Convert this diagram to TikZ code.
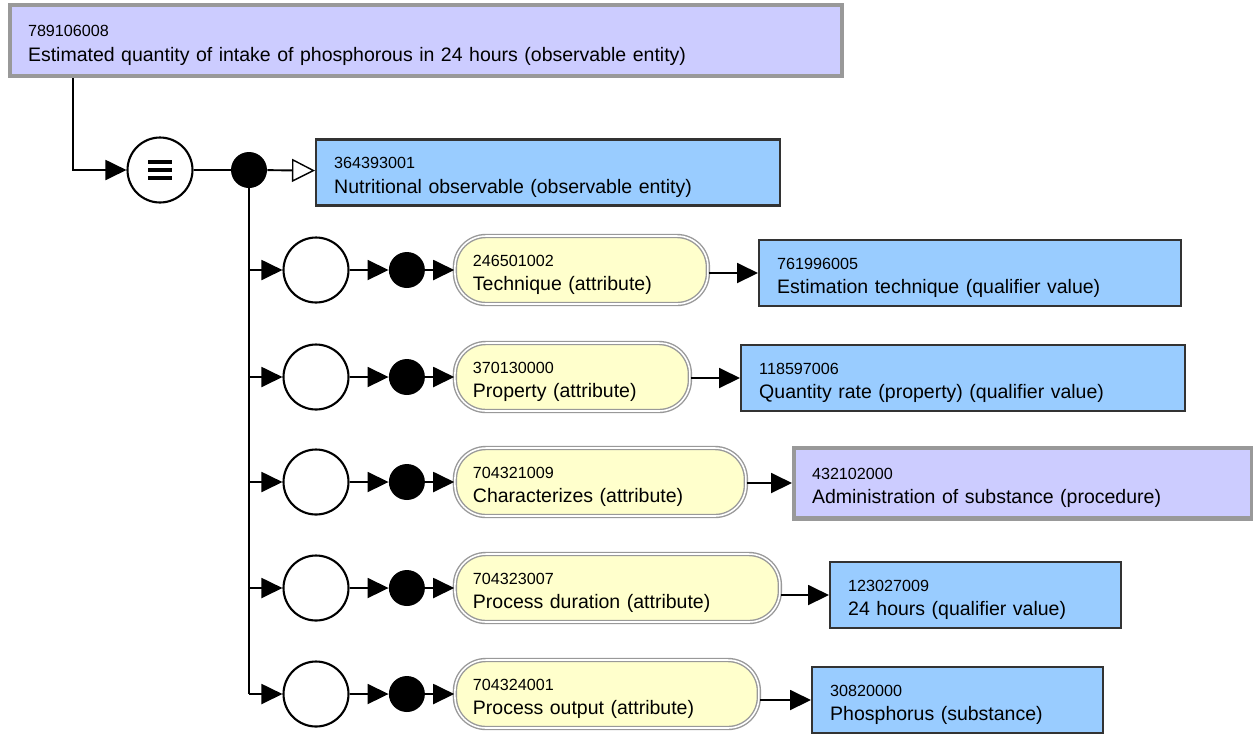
\documentclass[tikz,border=0pt]{standalone}
\usepackage{fontspec}
\setmainfont{Liberation Sans}
\usetikzlibrary{arrows.meta, positioning}
\definecolor{primlavender}{HTML}{CCCCFF}
\definecolor{primblue}{HTML}{99CCFF}
\definecolor{attryellow}{HTML}{FFFFCC}
\definecolor{borderdark}{HTML}{333333}
\definecolor{bordergray}{HTML}{999999}
\newcommand{\sctid}[1]{{\fontsize{9.2}{11}\selectfont\rule{0pt}{12pt}#1}}

\begin{document}
\begin{tikzpicture}[
        x=0.02cm, y=-0.02cm,
        box/.style = {rectangle, anchor=west, align=left, inner xsep=0.36cm, font=\fontsize{11.1}{14}\selectfont},
        defbox/.style = {box, fill=primlavender, draw=bordergray, line width=2.3pt, minimum height=1.42cm},
        primbox/.style = {box, fill=primblue, draw=borderdark, line width=1.4pt, minimum height=1.32cm},
        attrbox/.style = {box, fill=attryellow, draw=black!40, double=white, double distance=0.9pt, line width=0.8pt, rounded corners=0.62cm, minimum height=1.36cm},
        group/.style = {circle, draw, line width=1.2pt, minimum size=1.3cm, inner sep=0pt},
        conj/.style = {circle, fill=black, minimum size=0.72cm, inner sep=0pt},
        line/.style = {draw=black, line width=1.1pt},
        arrow/.style = {line, -{Triangle[length=0.42cm, width=0.4cm]}},
        isa/.style = {line, -{Triangle[open, length=0.46cm, width=0.46cm, line width=0.8pt]}}
    ]
        \useasboundingbox (0,0) rectangle (1253,735);

        % Focus concept
        \node (focus) [defbox, text width=15.92cm] at (8,40.5) {\sctid{789106008}\\Estimated quantity of intake of phosphorous in 24 hours (observable entity)};

        % Definition status and parent
        \node (equiv) [group] at (160,170) {};
        \draw [line width=1.9pt] ([shift={(-0.24cm,0.16cm)}]equiv.center) -- ++(0.48cm,0);
        \draw [line width=1.9pt] ([shift={(-0.24cm,0cm)}]equiv.center) -- ++(0.48cm,0);
        \draw [line width=1.9pt] ([shift={(-0.24cm,-0.16cm)}]equiv.center) -- ++(0.48cm,0);
        \node (conj0) [conj] at (249,170) {};
        \node (parent) [primbox, text width=8.56cm] at (315,172.5) {\sctid{364393001}\\Nutritional observable (observable entity)};

        % Attribute groups
        \node (grp1) [group] at (316,270) {};
        \node (conj1) [conj, right=0.78cm of grp1] {};
        \node (attr1) [attrbox, text width=4.34cm, right=0.58cm of conj1] {\sctid{246501002}\\Technique (attribute)};
        \node (val1) [primbox, text width=7.72cm] at (758,273) {\sctid{761996005}\\Estimation technique (qualifier value)};

        \node (grp2) [group] at (316,377) {};
        \node (conj2) [conj, right=0.78cm of grp2] {};
        \node (attr2) [attrbox, text width=3.98cm, right=0.58cm of conj2] {\sctid{370130000}\\Property (attribute)};
        \node (val2) [primbox, text width=8.16cm] at (740,378) {\sctid{118597006}\\Quantity rate (property) (qualifier value)};

        \node (grp3) [group] at (316,482) {};
        \node (conj3) [conj, right=0.78cm of grp3] {};
        \node (attr3) [attrbox, text width=5.10cm, right=0.58cm of conj3] {\sctid{704321009}\\Characterizes (attribute)};
        \node (val3) [defbox, text width=8.44cm] at (792,483) {\sctid{432102000}\\Administration of substance (procedure)};

        \node (grp4) [group] at (316,588) {};
        \node (conj4) [conj, right=0.78cm of grp4] {};
        \node (attr4) [attrbox, text width=5.78cm, right=0.58cm of conj4] {\sctid{704323007}\\Process duration (attribute)};
        \node (val4) [primbox, text width=5.10cm] at (829,595) {\sctid{123027009}\\24 hours (qualifier value)};

        \node (grp5) [group] at (316,694) {};
        \node (conj5) [conj, right=0.78cm of grp5] {};
        \node (attr5) [attrbox, text width=5.36cm, right=0.58cm of conj5] {\sctid{704324001}\\Process output (attribute)};
        \node (val5) [primbox, text width=5.10cm] at (811,700) {\sctid{30820000}\\Phosphorus (substance)};

        % Connections
        \draw [arrow] ([xshift=1.3cm]focus.south west) |- (equiv.west);
        \draw [line] (equiv) -- (conj0);
        \draw [isa] (conj0) -- (parent);
        \draw [line] (conj0) -- (conj0 |- grp5);

        \draw [arrow] (conj0 |- grp1) -- (grp1);
        \draw [arrow] (conj0 |- grp2) -- (grp2);
        \draw [arrow] (conj0 |- grp3) -- (grp3);
        \draw [arrow] (conj0 |- grp4) -- (grp4);
        \draw [arrow] (conj0 |- grp5) -- (grp5);

        \draw [arrow] (grp1) -- (conj1);
        \draw [arrow] (grp2) -- (conj2);
        \draw [arrow] (grp3) -- (conj3);
        \draw [arrow] (grp4) -- (conj4);
        \draw [arrow] (grp5) -- (conj5);

        \draw [arrow] (conj1) -- (attr1);
        \draw [arrow] (conj2) -- (attr2);
        \draw [arrow] (conj3) -- (attr3);
        \draw [arrow] (conj4) -- (attr4);
        \draw [arrow] (conj5) -- (attr5);

        \draw [arrow] (val1.west -| attr1.east) -- (val1);
        \draw [arrow] (val2.west -| attr2.east) -- (val2);
        \draw [arrow] (val3.west -| attr3.east) -- (val3);
        \draw [arrow] (val4.west -| attr4.east) -- (val4);
        \draw [arrow] (val5.west -| attr5.east) -- (val5);

    \end{tikzpicture}
\end{document}
